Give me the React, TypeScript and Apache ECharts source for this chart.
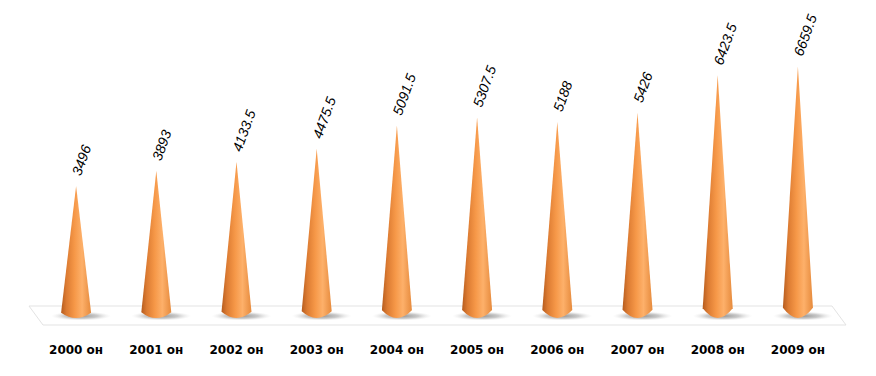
import React, { useEffect, useRef } from "react";
import * as echarts from "echarts";

const categories = ["2000 он", "2001 он", "2002 он", "2003 он", "2004 он", "2005 он", "2006 он", "2007 он", "2008 он", "2009 он"];
const values = [3496, 3893, 4133.5, 4475.5, 5091.5, 5307.5, 5188, 5426, 6423.5, 6659.5];
const shadowBase = [0, 0, 0, 0, 0, 0, 0, 0, 0, 0];

export default function App() {
  const ref = useRef<HTMLDivElement>(null);
  useEffect(() => {
    if (!ref.current) return;
    const chart = echarts.init(ref.current, null, { renderer: "svg" });
    const coneFill = new echarts.graphic.LinearGradient(0, 0, 1, 0, [
      { offset: 0, color: "#b65c1e" },
      { offset: 0.18, color: "#dc7b32" },
      { offset: 0.45, color: "#f69848" },
      { offset: 0.7, color: "#fdb06a" },
      { offset: 1, color: "#e68a3c" },
    ]);
    const shadowFill = new echarts.graphic.RadialGradient(0.5, 0.5, 0.5, [
      { offset: 0, color: "rgba(120,120,120,0.8)" },
      { offset: 0.55, color: "rgba(160,160,160,0.55)" },
      { offset: 1, color: "rgba(220,220,220,0)" },
    ]);
    chart.setOption({
      animation: false,
      backgroundColor: "#ffffff",
      grid: { left: 36, right: 38, top: 51.4, bottom: 60 },
      xAxis: {
        type: "category",
        data: categories,
        axisLine: { show: false },
        axisTick: { show: false },
        axisLabel: {
          margin: 28,
          fontFamily: "DejaVu Sans",
          fontWeight: "bold",
          fontSize: 12,
          color: "#000000",
        },
      },
      yAxis: { type: "value", min: 0, max: 7000, show: false, splitLine: { show: false } },
      graphic: [
        {
          type: "polygon",
          z: -10,
          shape: { points: [[29, 306], [832, 306], [846, 325], [43, 325]] },
          style: { fill: "#ffffff", stroke: "#e3e3e3", lineWidth: 1 },
        },
      ],
      series: [
        {
          type: "scatter",
          data: shadowBase,
          symbol: "path://M0,50 A50,50 0 1,0 100,50 A50,50 0 1,0 0,50 Z",
          symbolSize: [60, 9],
          symbolOffset: [5, 0],
          itemStyle: { color: shadowFill, opacity: 1 },
          silent: true,
          z: 1,
        },
        {
          type: "pictorialBar",
          data: values,
          symbol: "path://M50,0 L100,96 Q50,104 0,96 Z",
          symbolSize: [30, "100%"],
          symbolOffset: [0, 2],
          itemStyle: { color: coneFill },
          z: 3,
          label: {
            show: true,
            position: "top",
            distance: 9,
            rotate: 70,
            align: "left",
            verticalAlign: "middle",
            fontFamily: "Liberation Sans",
            fontStyle: "italic",
            fontSize: 14,
            color: "#000000",
          },
        },
      ],
    });
    return () => chart.dispose();
  }, []);
  return <div ref={ref} style={{ width: 876, height: 376, position: "absolute", left: 0, top: 0 }} />;
}
